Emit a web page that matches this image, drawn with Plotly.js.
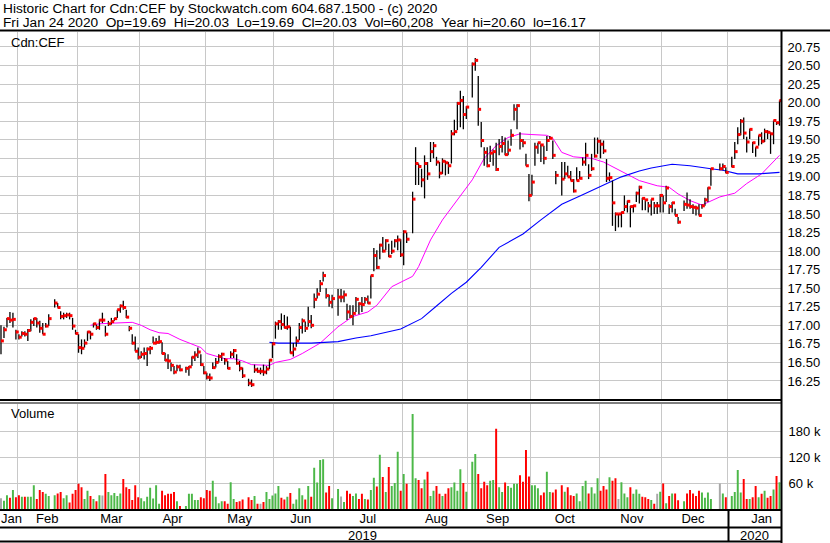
<!DOCTYPE html>
<html><head><meta charset="utf-8">
<script src="https://cdn.plot.ly/plotly-3.0.1.min.js"></script>
<style>html,body{margin:0;padding:0;background:#fff;} #chart{width:830px;height:543px;}</style>
</head><body><div id="chart"></div>
<script>
// ---- calendar (TSX trading days, Jan 24 2019 - Jan 24 2020) ----
const startDate = '2019-01-24', endDate = '2020-01-24';
const holidays = ['2019-02-18','2019-04-19','2019-05-20','2019-07-01','2019-08-05','2019-09-02','2019-10-14','2019-12-25','2019-12-26','2020-01-01'];

// ---- daily high / low / close (Dec 10 2019: no trade) ----
const hi = [
 17.00,16.98,17.10,17.18,17.17,16.94,
 16.88,16.92,16.92,16.95,17.08,17.10,17.10,17.06,17.03,17.03,17.15,17.35,17.30,17.19,17.17,17.17,17.17,17.10,16.94,
 16.88,16.81,16.81,16.92,16.92,17.03,17.01,17.08,17.17,16.99,17.06,17.10,17.10,17.21,17.28,17.33,17.21,16.99,16.88,16.85,16.70,
 16.65,16.70,16.70,16.72,16.85,16.83,16.86,16.77,16.63,16.61,16.50,16.45,16.47,16.47,16.44,16.45,16.58,16.65,16.70,16.61,16.45,
 16.36,16.35,16.50,16.56,16.61,16.63,16.56,16.52,16.65,16.68,16.61,16.52,16.43,16.28,16.27,16.47,16.43,16.43,16.47,16.45,16.54,16.77,
 17.05,17.07,17.16,17.14,17.12,16.98,16.76,16.85,17.03,17.09,17.05,17.25,17.14,17.43,17.50,17.61,17.72,17.50,17.41,17.41,
 17.49,17.49,17.47,17.29,17.27,17.27,17.38,17.31,17.38,17.38,17.40,17.67,18.04,18.01,18.10,18.19,18.16,18.10,18.14,18.16,18.21,18.16,
 18.28,18.25,18.80,19.40,19.18,19.11,19.29,19.20,19.47,19.47,19.27,19.20,19.25,19.22,19.20,19.63,19.77,20.01,20.16,20.09,19.95,
 20.54,20.60,20.36,19.74,19.40,19.40,19.42,19.37,19.46,19.51,19.55,19.53,19.49,19.64,19.98,19.98,19.60,19.51,19.31,19.04,
 19.03,19.46,19.46,19.44,19.42,19.55,19.55,19.49,19.08,19.20,19.20,19.15,19.08,18.97,19.13,19.08,19.26,19.46,19.17,19.31,19.53,19.53,
 19.50,19.49,19.24,19.06,18.95,18.52,18.50,18.53,18.75,18.68,18.61,18.62,18.80,18.88,18.72,18.70,18.66,18.70,18.66,18.66,18.77,
 18.75,18.88,18.63,18.66,18.57,18.46,null,18.68,18.79,18.70,18.63,18.61,18.63,18.63,18.72,18.86,19.11,19.18,19.18,19.13,
 19.27,19.47,19.67,19.78,19.80,19.54,19.65,19.47,19.40,19.56,19.60,19.65,19.63,19.60,19.76,19.74,20.03
];
const lo = [
 16.61,16.83,16.97,17.03,16.97,16.81,
 16.81,16.85,16.85,16.79,16.92,16.99,16.97,16.90,16.88,16.97,16.99,17.24,17.24,17.08,17.08,17.10,17.08,16.94,16.88,
 16.63,16.61,16.70,16.79,16.81,16.97,16.94,16.94,17.03,16.85,16.99,17.01,17.06,17.10,17.17,17.21,17.10,16.92,16.74,16.65,16.54,
 16.56,16.54,16.45,16.61,16.76,16.74,16.75,16.61,16.52,16.41,16.38,16.34,16.38,16.38,16.36,16.32,16.45,16.52,16.56,16.45,16.34,
 16.27,16.25,16.41,16.43,16.50,16.52,16.47,16.41,16.56,16.56,16.47,16.38,16.29,16.18,16.17,16.36,16.36,16.34,16.32,16.34,16.41,16.56,
 16.82,16.94,16.94,16.96,16.94,16.62,16.58,16.71,16.80,16.89,16.91,16.98,16.96,17.23,17.36,17.45,17.59,17.36,17.25,17.23,
 17.13,17.31,17.31,17.07,17.10,17.00,17.18,17.15,17.18,17.29,17.29,17.36,17.73,17.76,17.89,17.98,18.01,17.92,17.96,18.05,18.01,17.92,
 17.81,18.11,18.24,18.89,18.89,18.86,18.71,18.96,19.20,19.25,19.15,18.98,19.04,19.02,19.04,19.18,19.56,19.63,19.67,19.64,19.78,
 20.07,20.43,19.69,19.40,19.15,19.13,19.20,19.15,19.08,19.29,19.33,19.29,19.29,19.42,19.76,19.64,19.37,19.40,19.15,18.67,
 18.75,19.15,19.31,19.20,19.17,19.35,19.51,19.24,18.90,18.75,18.97,19.00,18.95,18.79,18.95,18.97,19.15,19.15,18.97,19.08,19.26,19.31,
 19.25,19.31,18.93,18.94,18.34,18.27,18.32,18.32,18.54,18.52,18.32,18.52,18.66,18.64,18.55,18.55,18.52,18.48,18.50,18.50,18.52,
 18.52,18.66,18.50,18.52,18.48,18.37,null,18.54,18.57,18.57,18.50,18.48,18.48,18.57,18.61,18.66,18.88,19.09,19.09,19.05,
 19.13,19.24,19.44,19.56,19.51,19.33,19.51,19.32,19.27,19.42,19.44,19.47,19.51,19.31,19.44,19.70,19.69
];
const cl = [
 16.79,16.94,17.09,17.07,17.08,16.91,
 16.84,16.89,16.88,16.93,17.04,17.09,17.03,16.96,16.88,16.99,17.09,17.30,17.24,17.12,17.13,17.14,17.13,16.99,16.89,
 16.70,16.69,16.76,16.91,16.88,17.02,16.97,17.07,17.07,16.88,17.02,17.05,17.09,17.21,17.26,17.24,17.11,16.96,16.76,16.65,16.57,
 16.61,16.62,16.68,16.69,16.76,16.77,16.78,16.62,16.53,16.52,16.46,16.37,16.44,16.40,16.42,16.44,16.57,16.60,16.64,16.47,16.36,
 16.30,16.29,16.43,16.50,16.58,16.61,16.53,16.42,16.61,16.66,16.49,16.42,16.32,16.22,16.20,16.40,16.38,16.38,16.37,16.41,16.53,16.75,
 17.02,17.05,17.01,16.97,16.98,16.63,16.68,16.79,16.97,17.06,16.96,17.05,17.00,17.35,17.42,17.56,17.67,17.40,17.31,17.36,
 17.38,17.38,17.41,17.18,17.12,17.16,17.35,17.29,17.28,17.35,17.30,17.67,17.94,17.78,18.08,18.00,18.14,17.93,18.00,18.14,18.15,17.95,
 18.26,18.16,18.70,19.18,19.14,18.96,19.18,19.04,19.34,19.42,19.20,19.05,19.21,19.19,19.15,19.58,19.61,19.99,20.03,19.84,19.94,
 20.52,20.57,19.91,19.49,19.33,19.15,19.32,19.34,19.10,19.41,19.45,19.30,19.36,19.56,19.91,19.96,19.49,19.46,19.15,18.75,
 18.93,19.40,19.46,19.43,19.25,19.49,19.52,19.29,19.02,18.97,19.04,19.00,18.95,18.81,18.95,18.98,19.20,19.29,19.02,19.11,19.28,19.48,
 19.44,19.35,18.98,18.99,18.65,18.50,18.50,18.52,18.60,18.67,18.60,18.61,18.78,18.86,18.71,18.69,18.61,18.70,18.61,18.61,18.75,
 18.65,18.85,18.60,18.65,18.48,18.39,null,18.63,18.62,18.60,18.59,18.58,18.48,18.61,18.69,18.85,19.11,19.11,19.14,19.06,
 19.14,19.34,19.57,19.75,19.59,19.47,19.64,19.46,19.40,19.56,19.48,19.61,19.60,19.58,19.76,19.73,20.03
];
// daily volume, thousands of shares
const volK = [
 25,19,32,26,44,27,
 32,28,28,28,28,55,23,44,39,35,30,32,36,39,25,32,15,35,44,
 58,50,23,42,30,23,18,32,31,81,39,32,37,30,36,69,50,46,21,55,27,
 25,18,28,49,24,55,12,42,32,35,35,39,18,7,7,35,35,21,21,27,25,
 44,42,65,28,13,18,18,12,62,23,16,18,22,27,21,30,12,12,16,39,23,31,
 36,53,26,22,28,37,12,22,48,32,22,53,28,95,61,113,115,38,53,25,
 46,29,16,42,35,30,36,23,35,23,22,44,72,52,125,74,39,97,53,60,132,42,
 81,58,219,71,67,48,68,86,30,42,53,35,30,35,48,50,61,42,92,60,40,
 109,127,81,48,63,55,65,67,185,50,39,61,53,49,58,58,78,63,136,75,
 55,55,48,32,38,86,39,38,45,55,40,50,32,30,36,18,53,65,36,50,36,71,
 42,53,45,73,65,71,23,62,36,27,50,35,45,35,28,27,23,21,12,35,40,
 59,13,30,36,36,20,0,18,36,44,36,30,42,38,26,38,23,59,36,27,
 30,39,90,38,69,23,23,27,53,27,35,42,26,30,45,76,62
];

// ---- moving averages ----
const maFastDates = ['2019-03-07','2019-03-12','2019-03-19','2019-03-25','2019-03-27','2019-04-01','2019-04-04','2019-04-09','2019-04-12','2019-04-18','2019-04-24','2019-04-29','2019-05-01','2019-05-06','2019-05-09','2019-05-14','2019-05-17','2019-05-22','2019-05-27','2019-05-30','2019-06-03','2019-06-10','2019-06-14','2019-06-24','2019-07-02','2019-07-09','2019-07-16','2019-07-19','2019-07-26','2019-08-06','2019-08-08','2019-08-14','2019-08-20','2019-08-27','2019-09-03','2019-09-09','2019-09-13','2019-09-19','2019-09-25','2019-10-01','2019-10-08','2019-10-10','2019-10-15','2019-10-21','2019-10-29','2019-11-04','2019-11-08','2019-11-14','2019-11-20','2019-11-28','2019-12-04','2019-12-09','2019-12-13','2019-12-19','2019-12-24','2019-12-27','2020-01-03','2020-01-09','2020-01-16','2020-01-21','2020-01-24'];
const maFast = [17.00,17.02,17.03,17.04,17.04,17.00,16.94,16.90,16.89,16.81,16.75,16.70,16.62,16.58,16.55,16.55,16.52,16.47,16.46,16.46,16.50,16.54,16.62,16.76,16.98,17.12,17.18,17.27,17.52,17.66,17.79,18.15,18.42,18.69,18.96,19.25,19.42,19.53,19.58,19.57,19.56,19.52,19.33,19.27,19.25,19.20,19.12,19.03,18.95,18.88,18.86,18.77,18.68,18.62,18.68,18.73,18.78,18.91,19.04,19.16,19.29];
const maSlowDates = ['2019-05-30','2019-06-04','2019-06-19','2019-07-02','2019-07-10','2019-07-17','2019-07-31','2019-08-09','2019-08-16','2019-08-23','2019-08-30','2019-09-06','2019-09-16','2019-09-26','2019-10-04','2019-10-15','2019-10-24','2019-11-04','2019-11-12','2019-11-20','2019-11-26','2019-12-05','2019-12-13','2019-12-24','2019-12-30','2020-01-06','2020-01-15','2020-01-24'];
const maSlow = [16.77,16.76,16.76,16.78,16.83,16.86,16.95,17.09,17.26,17.43,17.58,17.78,18.05,18.23,18.42,18.63,18.76,18.89,19.00,19.08,19.12,19.17,19.15,19.11,19.09,19.04,19.04,19.06];

// ---- tick labels / texts ----
const priceTicks = [16.25,16.50,16.75,17.00,17.25,17.50,17.75,18.00,18.25,18.50,18.75,19.00,19.25,19.50,19.75,20.00,20.25,20.50,20.75];
const volTicks = [60000,120000,180000];
const volTickText = ['60 k','120 k','180 k'];
const header1 = 'Historic Chart for Cdn:CEF by Stockwatch.com 604.687.1500 - (c) 2020';
const header2 = 'Fri Jan 24 2020\u00a0\u00a0Op=19.69\u00a0\u00a0Hi=20.03\u00a0\u00a0Lo=19.69\u00a0\u00a0Cl=20.03\u00a0\u00a0Vol=60,208\u00a0\u00a0Year hi=20.60\u00a0\u00a0lo=16.17';

// ---- build ----
function tradingDays(){
  const out=[]; const d=new Date(startDate+'T00:00:00Z'); const e=new Date(endDate+'T00:00:00Z');
  while(d<=e){ const wd=d.getUTCDay(); const s=d.toISOString().slice(0,10);
    if(wd!==0 && wd!==6 && !holidays.includes(s)) out.push(s);
    d.setUTCDate(d.getUTCDate()+1); }
  return out;
}
const dates = tradingDays();
if(dates.length!==cl.length) console.error('length mismatch', dates.length, cl.length);

const GRID='#c8c8c8', GREEN='#4cb848', RED='#ff0000', GRAY='#a8a8a8';
const FONT='Liberation Sans, Arial, sans-serif';
const W=830, H=543, L=0, R=49, T=32, B=34;
const plotW=W-L-R, plotH=H-T-B;
const pxX = v => (v-L)/plotW;
const pxY = v => (H-B-v)/plotH;

const xMid = dates.map(d=>d+' 12:00');
const xClose = dates.map(d=>d+' 23:00');
const hlx=[], hly=[];
dates.forEach((d,k)=>{ if(hi[k]==null) return; hlx.push(xMid[k],xMid[k],null); hly.push(lo[k],hi[k],null); });
let prev=null;
const vColors = cl.map(c=>{ let col=GRAY; if(prev!=null && c!=null) col = c>prev?GREEN:(c<prev?RED:GRAY); if(c!=null) prev=c; return col; });

const traces = [
  {type:'bar', x:xMid, y:volK.map(v=>v*1000), xaxis:'x2', yaxis:'y2', marker:{color:vColors, line:{width:0}}, width:0.66*86400000, hoverinfo:'skip'},
  {type:'scatter', mode:'lines', x:maFastDates.map(d=>d+' 12:00'), y:maFast, line:{color:'#ff00ff', width:1}, hoverinfo:'skip'},
  {type:'scatter', mode:'lines', x:maSlowDates.map(d=>d+' 12:00'), y:maSlow, line:{color:'#0000ff', width:1.1}, hoverinfo:'skip'},
  {type:'scatter', mode:'lines', x:hlx, y:hly, line:{color:'#000', width:1.3}, connectgaps:false, hoverinfo:'skip'},
  {type:'scatter', mode:'markers', x:xClose, y:cl, marker:{color:RED, symbol:'square', size:3, line:{width:0}}, hoverinfo:'skip'}
];

const xCommon = {type:'date', rangebreaks:[{bounds:['sat','mon']}], tick0:'2019-01-01', dtick:'M1',
  showgrid:true, gridcolor:GRID, gridwidth:1, ticks:'', showline:false, zeroline:false, fixedrange:true};
const line = (x0,y0,x1,y1,w)=>({type:'line', xref:'paper', yref:'paper', x0:pxX(x0), y0:pxY(y0), x1:pxX(x1), y1:pxY(y1), line:{color:'#000', width:w}});
const txt = (t,x,y,anchor,size)=>({text:t, xref:'paper', yref:'paper', x:pxX(x), y:pxY(y), xanchor:anchor||'left', yanchor:'middle', showarrow:false, font:{family:FONT, size:size||13, color:'#000'}});

const layout = {
  width:W, height:H, margin:{l:L, r:R, t:T, b:B, pad:0},
  paper_bgcolor:'#fff', plot_bgcolor:'#fff', showlegend:false,
  font:{family:FONT, size:13, color:'#000'},
  xaxis: Object.assign({}, xCommon, {anchor:'y', domain:[0,1], range:['2019-01-24 04:00','2020-01-24 23:59'], showticklabels:false}),
  xaxis2: Object.assign({}, xCommon, {anchor:'y2', domain:[0,1], matches:'x', showticklabels:true, tickformat:'%b', ticklabelmode:'period', tickfont:{family:FONT, size:13, color:'#000'}}),
  yaxis: {domain:[pxY(399),1], range:[16.007,20.952], side:'right', tickvals:priceTicks, tickformat:'.2f',
    showgrid:true, gridcolor:GRID, gridwidth:1, ticks:'outside', ticklen:3, tickcolor:'rgba(0,0,0,0)', zeroline:false, showline:false,
    tickfont:{family:FONT, size:13, color:'#000'}, fixedrange:true},
  yaxis2: {domain:[0,pxY(403.5)], range:[0,243461], side:'right', tickvals:volTicks, ticktext:volTickText,
    showgrid:true, gridcolor:GRID, gridwidth:1, ticks:'outside', ticklen:4, tickcolor:'rgba(0,0,0,0)', zeroline:false, showline:false,
    tickfont:{family:FONT, size:13, color:'#000'}, fixedrange:true},
  shapes: [
    line(0,30.5,830,30.5,2),
    line(781.5,30,781.5,543,2),
    line(0,400,781,400,2),
    line(0,403,781,403,1),
    line(0,510,781,510,2),
    line(0,527.5,781,527.5,2),
    line(0,541.5,781,541.5,2),
    line(728.5,510,728.5,541.5,2)
  ],
  annotations: [
    txt(header1,1,8,'left',13.7),
    txt(header2,1,22,'left',13.7),
    txt('Cdn:CEF',9,42),
    txt('Volume',9,413),
    txt('Jan',11,518,'center'),
    txt('2019',362,535,'center'),
    txt('2020',754,535,'center')
  ]
};

Plotly.newPlot('chart', traces, layout, {staticPlot:true, displayModeBar:false});
</script>
</body></html>
